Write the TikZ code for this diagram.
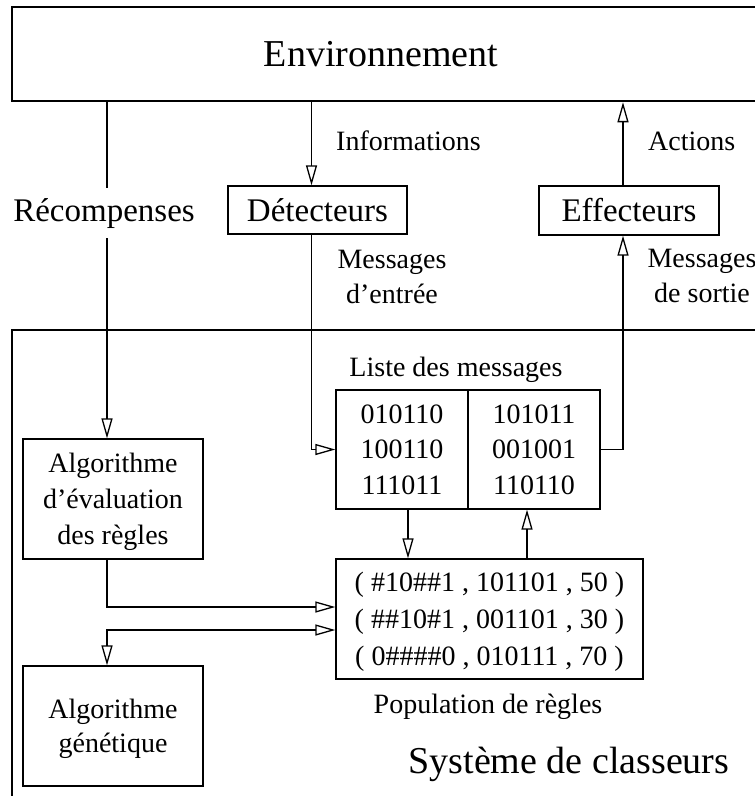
\documentclass[tikz,border=0pt]{standalone}
\usepackage{fontspec}
\setmainfont{Liberation Serif}
\usetikzlibrary{arrows.meta,positioning}

\begin{document}
\begin{tikzpicture}[x=1pt,y=-1pt,
    bloc/.style={draw,line width=1.3pt,inner sep=0pt,align=center},
    cadre/.style={draw,line width=2.5pt,inner sep=0pt},
    lbl/.style={inner sep=0pt,font=\fontsize{28}{35}\selectfont},
    arr/.style={line width=1.3pt,-{Triangle[open,length=20pt,width=11pt]}},
    arrr/.style={line width=1.3pt,{Triangle[open,length=20pt,width=11pt]}-{Triangle[open,length=20pt,width=11pt]}}]
  \useasboundingbox (0,0) rectangle (755,796);
  \clip (0,0) rectangle (755,796);
  % grands cadres
  \node[cadre,minimum width=778pt,minimum height=94pt] (env) at (401,54) {};
  \node[cadre,minimum width=778pt,minimum height=506pt] (sys) at (401,583) {};
  \node[lbl,anchor=base,font=\fontsize{38}{44}\selectfont] (envtxt) at (381,66) {Environnement};
  \node[lbl,anchor=base,font=\fontsize{38}{44}\selectfont] (systxt) at (569,773) {Système de classeurs};
  % blocs
  \node[bloc,minimum width=179pt,minimum height=48pt,font=\fontsize{33}{40}\selectfont] (detect) at (317.5,210) {Détecteurs};
  \node[bloc,minimum width=180pt,minimum height=49pt,font=\fontsize{33}{40}\selectfont] (effect) at (629,210.5) {Effecteurs};
  \node[bloc,minimum width=132pt,minimum height=119pt,font=\fontsize{28}{35.5}\selectfont] (listeL) at (402,449.5) {010110\\100110\\111011};
  \node[bloc,minimum width=132pt,minimum height=119pt,font=\fontsize{28}{35.5}\selectfont] (listeR) at (534,449.5) {101011\\001001\\110110};
  \node[bloc,minimum width=307pt,minimum height=120pt,font=\fontsize{28}{37}\selectfont,text depth=0pt] (pop) at (489.5,619)
    {( \#10\#\#1 , 101101 , 50 )\\( \#\#10\#1 , 001101 , 30 )\\( 0\#\#\#\#0 , 010111 , 70 )};
  \node[bloc,minimum width=180pt,minimum height=120pt,font=\fontsize{28}{36}\selectfont,text depth=0pt] (eval) at (113,499)
    {Algorithme\\d’évaluation\\des règles};
  \node[bloc,minimum width=180pt,minimum height=120pt,font=\fontsize{28}{34}\selectfont,text depth=0pt] (gen) at (113,726)
    {Algorithme\\génétique};
  % etiquettes
  \node[lbl,anchor=base west] (info) at (336,150) {Informations};
  \node[lbl,anchor=base west] (act) at (648,150) {Actions};
  \node[lbl,anchor=north,align=center] (msgin) at (392,249.5) {Messages\\d’entrée};
  \node[lbl,anchor=north,align=center] (msgout) at (702,249) {Messages\\de sortie};
  \node[lbl,anchor=base] (listetxt) at (456,376) {Liste des messages};
  \node[lbl,anchor=base] (poptxt) at (488,713) {Population de règles};
  \node[lbl,anchor=base,inner ysep=10pt,font=\fontsize{33}{40}\selectfont] (rec) at (104,221) {Récompenses};
  % connexions
  \draw[line width=1.3pt] ([xshift=-6pt]eval.north |- env.south) -- ([xshift=-6pt]eval.north |- rec.north);
  \draw[arr] ([xshift=-6pt]eval.north |- rec.south) -- ([xshift=-6pt]eval.north);
  \draw[arr] ([xshift=-6pt]detect.north |- env.south) -- ([xshift=-6pt]detect.north);
  \draw[arr] ([xshift=-6pt]effect.north) -- ([xshift=-6pt]effect.north |- env.south);
  \draw[arr] ([xshift=-6pt]detect.south) |- (listeL.west);
  \draw[arr] (listeR.east) -| ([xshift=-6pt]effect.south);
  \draw[arr] ([xshift=6pt]listeL.south) -- ([xshift=6pt]listeL.south |- pop.north);
  \draw[arr] ([xshift=-7pt]listeR.south |- pop.north) -- ([xshift=-7pt]listeR.south);
  \draw[arr] ([xshift=-6pt]eval.south) |- ([yshift=12pt]pop.west);
  \draw[arrr] ([yshift=-11pt]pop.west) -| ([xshift=-6pt]gen.north);
\end{tikzpicture}
\end{document}
